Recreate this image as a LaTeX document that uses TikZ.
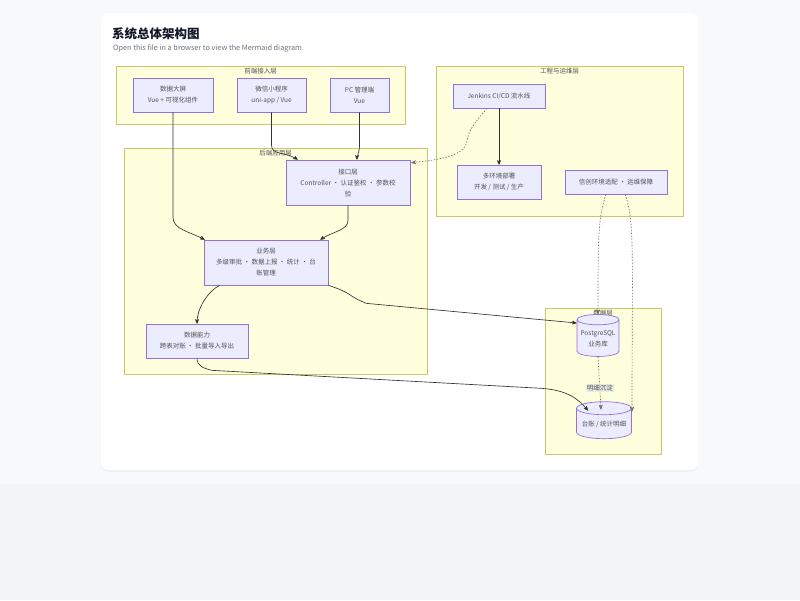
\documentclass[tikz,border=0pt]{standalone}
\usepackage{fontspec}
\setmainfont{Noto Sans CJK SC}
\usetikzlibrary{shapes.geometric, shadows, arrows, calc}
\definecolor{pageBg}{HTML}{F3F4F6}
\definecolor{pageTop}{HTML}{F8F9FB}
\definecolor{groupFill}{HTML}{FFFFDE}
\definecolor{groupDraw}{HTML}{C8C86A}
\definecolor{boxFill}{HTML}{ECECFF}
\definecolor{boxDraw}{HTML}{9370DB}
\definecolor{textColor}{HTML}{333333}
\definecolor{subColor}{HTML}{6B7280}
\definecolor{titleColor}{HTML}{111827}
\colorlet{edgeColor}{textColor}
\tikzstyle{group}=[rectangle, draw=groupDraw, fill=groupFill, line width=0.8pt]
\tikzstyle{groupLabel}=[anchor=north, inner sep=0pt, text=textColor!85,
font=\fontsize{6.5}{8}\selectfont]
\tikzstyle{box}=[rectangle, align=center, draw=boxDraw, fill=boxFill, line width=0.7pt,
text=textColor!85, font=\fontsize{6.5}{11}\selectfont, inner sep=1pt]
\tikzstyle{db}=[cylinder, shape border rotate=90, aspect=0.28, align=center,
draw=boxDraw, fill=boxFill, line width=0.7pt, text=textColor!85,
font=\fontsize{6.5}{11}\selectfont, inner sep=1pt]
\tikzstyle{arrow}=[->, >=stealth', draw=edgeColor, line width=0.65pt]
\tikzstyle{dotArrow}=[arrow, draw=edgeColor!70, dash pattern=on 1.5pt off 1.5pt]
\tikzstyle{edgeLabel}=[fill=black!9, fill opacity=0.8, text opacity=1, inner sep=1pt,
text=textColor!85, font=\fontsize{6.5}{8}\selectfont]

\begin{document}
\begin{tikzpicture}[x=1pt, y=-1pt]
  \useasboundingbox (0,0) rectangle (800,600);
  \fill [pageBg] (0,0) rectangle (800,600);
  \fill [pageTop] (0,0) rectangle (800,484);
  \node(card) [rectangle, rounded corners=7pt, fill=white, minimum width=597pt,
    minimum height=457pt, drop shadow={opacity=0.08, shadow xshift=0pt, shadow yshift=-1.5pt}]
    at (399.5,241.5) {};
  \node(title) [anchor=base west, inner sep=0pt, text=titleColor,
    font=\fontsize{12.5}{14}\selectfont\bfseries] at (112,38) {系统总体架构图};
  \node(subtitle) [anchor=base west, inner sep=0pt, text=subColor,
    font=\fontsize{7.3}{8}\selectfont] at (113,50)
    {Open this file in a browser to view the Mermaid diagram.};

  \node(front) [group, minimum width=289pt, minimum height=58pt] at (260.5,95) {};
  \node(frontLabel) [groupLabel] at ($(front.north)+(0,2)$) {前端接入层};
  \node(ops) [group, minimum width=247pt, minimum height=150pt] at (559.5,141) {};
  \node(opsLabel) [groupLabel] at ($(ops.north)+(0,2)$) {工程与运维层};
  \node(backend) [group, minimum width=303pt, minimum height=226pt] at (275.5,261) {};
  \node(backendLabel) [groupLabel] at ($(backend.north)+(0,2)$) {后端应用层};
  \node(data) [group, minimum width=116pt, minimum height=146pt] at (603,381) {};
  \node(dataLabel) [groupLabel] at ($(data.north)+(0,2)$) {数据层};

  \node(dp) [box, minimum width=80pt, minimum height=34pt] at (173,95) {数据大屏\\Vue + 可视化组件};
  \node(wx) [box, minimum width=69pt, minimum height=34pt] at (271.5,95) {微信小程序\\uni-app / Vue};
  \node(pc) [box, minimum width=59pt, minimum height=34pt] at (359.5,95) {PC 管理端\\Vue};
  \node(jen) [box, minimum width=92pt, minimum height=24pt] at (499,96) {Jenkins CI/CD 流水线};
  \node(dep) [box, minimum width=84pt, minimum height=34pt] at (499,182) {多环境部署\\开发 / 测试 / 生产};
  \node(xc) [box, minimum width=102pt, minimum height=24pt] at (616,182) {信创环境适配 · 运维保障};
  \node(jk) [box, minimum width=124pt, minimum height=45pt] at (348,182.5)
    {接口层\\Controller · 认证鉴权 · 参数校\\验};
  \node(yw) [box, minimum width=124pt, minimum height=45pt] at (266,262.5)
    {业务层\\多级审批 · 数据上报 · 统计 · 台\\账管理};
  \node(sj) [box, minimum width=102pt, minimum height=34pt] at (197,341) {数据能力\\跨表对账 · 批量导入导出};
  \node(pg) [db, minimum width=42pt, minimum height=42pt] at (598,339) {PostgreSQL\\业务库};
  \node(tz) [db, minimum width=55pt, minimum height=37pt] at (604,424.5) {台账 / 统计明细};

  \draw [arrow] (dp.south) -- ++(0,105) .. controls +(0,12) and +(-15,-8) .. ($(yw.north west)+(1,0)$);
  \draw [arrow] (wx.south) -- ++(0,33) .. controls +(0,10) and +(-12,-8) .. ($(jk.north west)+(12,0)$);
  \draw [arrow] (pc.south) -- ++(0,33) .. controls +(0,8) and +(0,-6) .. ($(jk.north)+(9,0)$);
  \draw [dotArrow] ($(jen.south)+(-12,0)$) .. controls +(-10,12) and +(2,-12) .. ++(-20,32)
    .. controls +(-1,15) and +(30,-3) .. ($(jk.north east)+(1,3)$);
  \draw [arrow] (jen) -- (dep);
  \draw [arrow] (jk.south) -- ++(0,15) .. controls +(0,10) and +(12,-8) .. ($(yw.north east)+(-8,0)$);
  \draw [arrow] ($(yw.south west)+(16,0)$) .. controls +(-12,6) and +(0,-15) .. (sj.north);
  \draw [arrow] (yw.south east) .. controls +(25,8) and +(-20,-8) .. ++(38,18) -- ($(pg.west)+(0,-16)$);
  \draw [arrow] (sj.south) .. controls +(0,8) and +(-8,-2) .. ++(15,12) -- ++(330,18)
    .. controls +(25,2) and +(-10,-12) .. ($(tz.center)+(-16,-14)$);
  \draw [dotArrow] (pg.south) -- node [edgeLabel, pos=0.6] {明细沉淀} ($(tz.center)+(-3,-15)$);
  \draw [dotArrow] ($(xc.south)+(-10,0)$) .. controls +(-8,25) and +(0,-80) .. (pg.north);
  \draw [dotArrow] ($(xc.south)+(9,0)$) .. controls +(10,25) and +(0,-150) .. ($(tz.center)+(28,-13)$);
\end{tikzpicture}
\end{document}
